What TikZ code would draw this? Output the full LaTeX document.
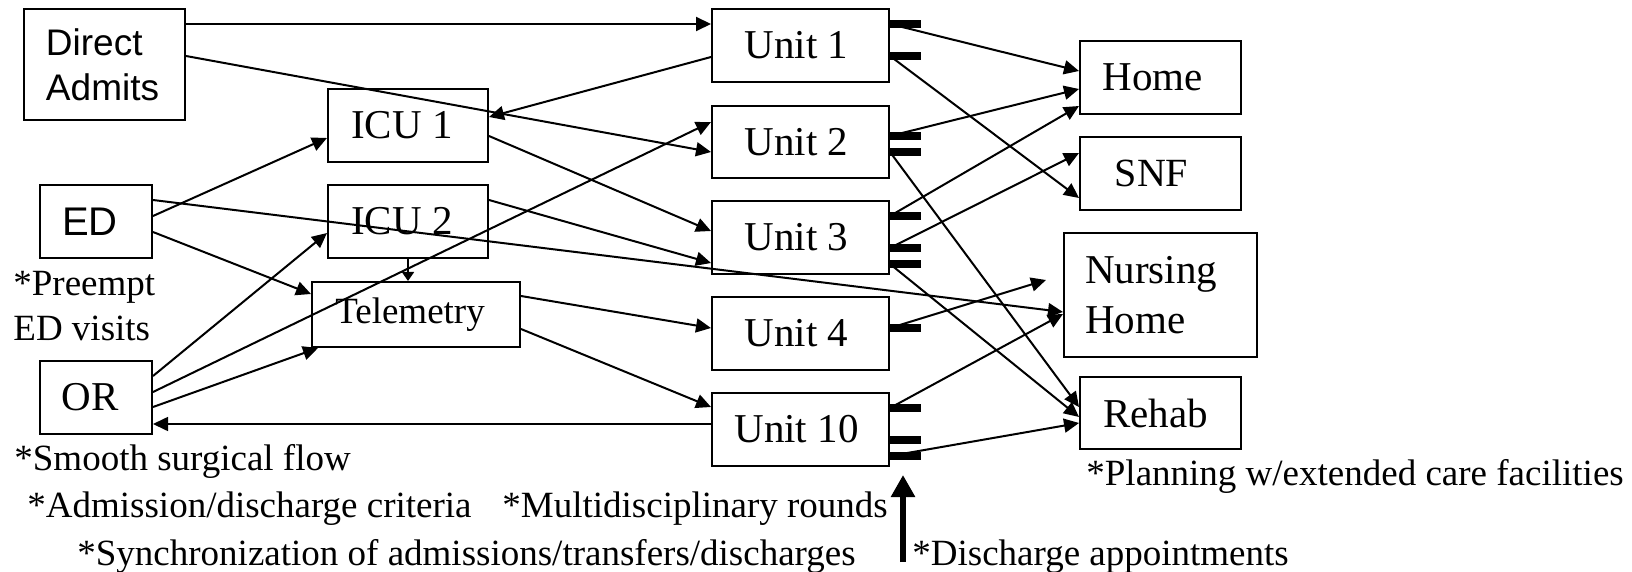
\documentclass[tikz,border=0pt]{standalone}
\usepackage{fontspec}
\setmainfont{Liberation Serif}
\newfontfamily\arialf{Liberation Sans}
\usetikzlibrary{arrows.meta,calc}
\newcommand{\lsh}{\kern6pt}
\begin{document}
\begin{tikzpicture}[x=0.5pt,y=-0.5pt,
  box/.style={draw, line width=1pt, inner sep=0pt, font=\fontsize{20.5}{25}\selectfont},
  flow/.style={line width=1pt, -{Triangle[length=7.5pt,width=7pt]}},
  smallflow/.style={line width=0.8pt, -{Triangle[length=4.5pt,width=6pt]}},
  bigflow/.style={line width=3pt, -{Triangle[length=11pt,width=11.5pt]}},
  bar/.style={line width=4pt},
  note/.style={anchor=base west, inner sep=0pt, font=\fontsize{18.5}{22}\selectfont},
]
\useasboundingbox (0,0) rectangle (1632,572);

% left boxes
\node[box, minimum width=80.5pt, minimum height=55.5pt, inner xsep=11pt,
      text width=58.5pt, align=left,
      font=\arialf\fontsize{18.5}{22.5}\selectfont] (da) at (104.5,64.5) {Direct\\Admits};
\node[box, minimum width=56pt, minimum height=36.5pt, font=\arialf\fontsize{20}{24}\selectfont] (ed) at (96,221.5) {ED\lsh};
\node[box, minimum width=56pt, minimum height=36.5pt] (or) at (96,397.5) {OR\lsh};
\node[box, minimum width=80pt, minimum height=36.5pt] (icu1) at (408,125.5) {ICU 1\lsh};
\node[box, minimum width=80pt, minimum height=36.5pt] (icu2) at (408,221.5) {ICU 2\lsh};
\node[box, minimum width=104pt, minimum height=32.5pt, font=\fontsize{18.5}{22}\selectfont] (tel) at (416,314.5) {Telemetry\lsh};

% units
\node[box, minimum width=88.5pt, minimum height=36.5pt] (u1) at (800.5,45.5) {Unit 1\kern4pt};
\node[box, minimum width=88.5pt, minimum height=36pt] (u2) at (800.5,142) {Unit 2\kern4pt};
\node[box, minimum width=88.5pt, minimum height=36.5pt] (u3) at (800.5,237.5) {Unit 3\kern4pt};
\node[box, minimum width=88.5pt, minimum height=36.5pt] (u4) at (800.5,333.5) {Unit 4\kern4pt};
\node[box, minimum width=88.5pt, minimum height=36.5pt] (u10) at (800.5,429.5) {Unit 10\kern4pt};

% destinations
\node[box, minimum width=80.5pt, minimum height=36.5pt] (home) at (1160.5,77.5) {Home\kern8pt};
\node[box, minimum width=80.5pt, minimum height=36.5pt, font=\fontsize{20}{24}\selectfont] (snf) at (1160.5,173.5) {SNF\kern9pt};
\node[box, minimum width=96.5pt, minimum height=62pt, inner xsep=10.5pt, text width=75.5pt, align=left] (nh) at (1160.5,295) {Nursing\\Home};
\node[box, minimum width=80.5pt, minimum height=36pt] (rehab) at (1160.5,413) {Rehab\kern5pt};

% discharge bars
\coordinate (u1a) at ($(u1.north east)+(0,16)$);
\coordinate (u1b) at ($(u1.north east)+(0,48)$);
\coordinate (u2a) at ($(u2.north east)+(0,31)$);
\coordinate (u2b) at ($(u2.north east)+(0,47)$);
\coordinate (u3a) at ($(u3.north east)+(0,16)$);
\coordinate (u3b) at ($(u3.north east)+(0,48)$);
\coordinate (u3c) at ($(u3.north east)+(0,64)$);
\coordinate (u4a) at ($(u4.north east)+(0,32)$);
\coordinate (u10a) at ($(u10.north east)+(0,16)$);
\coordinate (u10b) at ($(u10.north east)+(0,48)$);
\coordinate (u10c) at ($(u10.north east)+(0,64)$);
\foreach \b in {u1a,u1b,u2a,u2b,u3a,u3b,u3c,u4a,u10a,u10b,u10c}
  \draw[bar] (\b) -- ++(31,0);

% left-side connectors
\draw[flow] ($(da.north east)+(0,16)$) -- ($(u1.north west)+(0,16)$);
\draw[flow] ($(da.north east)+(0,48)$) -- ($(u2.north west)+(0,47)$);
\draw[flow] ($(u1.north west)+(0,49)$) -- ($(icu1.north east)+(0,29)$);
\draw[flow] ($(icu1.north east)+(0,48)$) -- ($(u3.north west)+(0,31)$);
\draw[flow] ($(icu2.north east)+(0,16)$) -- ($(u3.north west)+(0,63)$);
\draw[flow] ($(ed.north east)+(0,32)$) -- ($(icu1.north west)+(0,50)$);
\draw[flow] ($(ed.north east)+(0,16)$) -- ($(nh.north west)+(0,80)$);
\draw[flow] ($(ed.north east)+(0,48)$) -- ($(tel.north west)+(0,13)$);
\draw[smallflow] (icu2.south) -- (icu2.south |- tel.north);
\draw[flow] ($(or.north east)+(0,16)$) -- ($(icu2.north west)+(0,49)$);
\draw[flow] ($(or.north east)+(0,32)$) -- ($(u2.north west)+(0,17)$);
\draw[flow] ($(or.north east)+(0,47)$) -- ($(tel.south west)+(7,0)$);
\draw[flow, line width=0.8pt] ($(u10.north west)+(0,32)$) -- ($(or.north east)+(0,64)$);
\draw[flow] ($(tel.north east)+(0,15)$) -- ($(u4.north west)+(0,32)$);
\draw[flow] ($(tel.north east)+(0,48)$) -- ($(u10.north west)+(0,15)$);

% right-side connectors
\coordinate (c4) at ($(nh.north west)+(-17,48)$);
\draw[flow] (u1a) -- ($(home.north west)+(0,31)$);
\draw[flow] (u1b) -- ($(snf.north west)+(0,62)$);
\draw[flow] (u2a) -- ($(home.north west)+(0,49)$);
\draw[flow] (u2b) -- ($(rehab.north west)+(0,31)$);
\draw[flow] (u3a) -- ($(home.north west)+(0,66)$);
\draw[flow] (u3b) -- ($(snf.north west)+(0,17)$);
\draw[flow] (u3c) -- ($(rehab.north west)+(0,41)$);
\draw[flow] (u4a) -- (c4);
\draw[flow] (u10a) -- ($(nh.north west)+(0,82)$);
\draw[flow] (u10c) -- ($(rehab.north west)+(0,47)$);

% notes
\node[note] (n1) at (13,295) {*Preempt};
\node[note] (n2) at (13,340) {ED visits};
\node[note] (n3) at (14,470) {*Smooth surgical flow};
\node[note] (n4) at (27,517) {*Admission/discharge criteria};
\node[note] (n5) at (502,517) {*Multidisciplinary rounds};
\node[note] (n6) at (77,565) {*Synchronization of admissions/transfers/discharges};
\node[note] (n7) at (912,565) {*Discharge appointments};
\node[note] (n8) at (1086,485) {*Planning w/extended care facilities};

\coordinate (dis0) at (903,562);
\draw[bigflow] (dis0) -- ++(0,-87);
\end{tikzpicture}
\end{document}
